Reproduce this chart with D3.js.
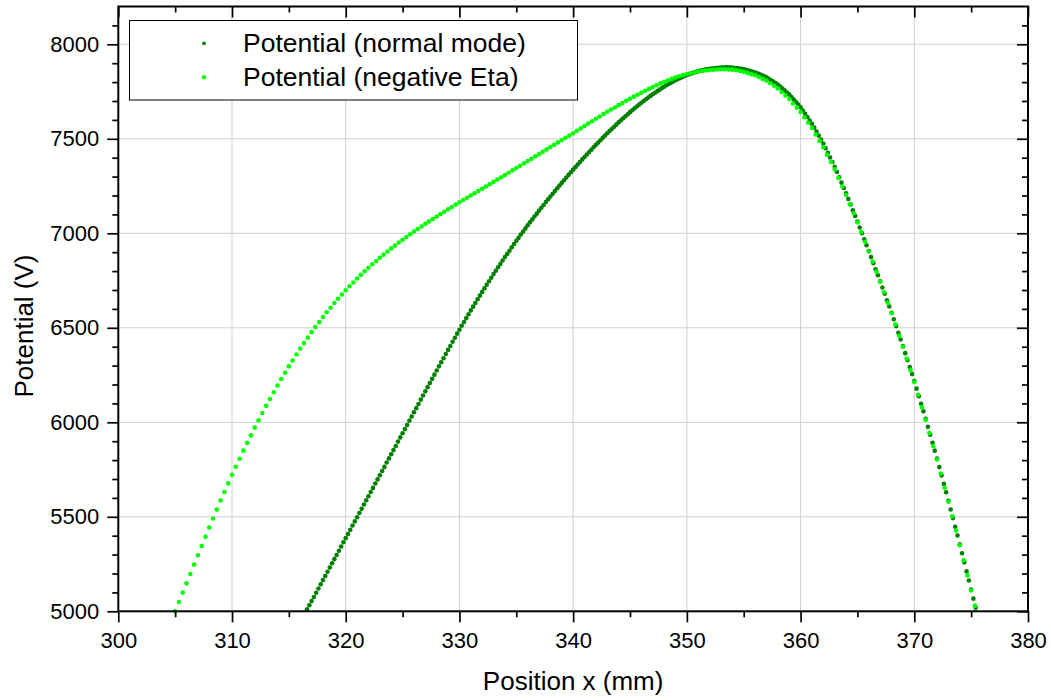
<!DOCTYPE html>
<html>
<head>
    <meta charset="utf-8">
    <title>potential</title>
    <script src="https://d3js.org/d3.v7.min.js"></script>
    <style>
        body { margin: 0px; background: #fff; }
        text { font-family: Arial, "Liberation Sans", sans-serif; fill: #000; }
    </style>
</head>
<body>
<svg width="1051" height="700"></svg>
<script>

    // readings: [position x (mm), potential (V)]
    var normalMode = [
        [316.6,5010],[316.8,5032],
        [317,5054],[317.2,5076],[317.4,5098],[317.6,5121],[317.8,5143],
        [318,5165],[318.2,5187],[318.4,5209],[318.6,5232],[318.8,5254],
        [319,5276],[319.2,5298],[319.4,5320],[319.6,5343],[319.8,5365],
        [320,5387],[320.2,5409],[320.4,5431],[320.6,5454],[320.8,5476],
        [321,5498],[321.2,5520],[321.4,5542],[321.6,5565],[321.8,5587],
        [322,5609],[322.2,5631],[322.4,5653],[322.6,5676],[322.8,5698],
        [323,5720],[323.2,5742],[323.4,5764],[323.6,5787],[323.8,5809],
        [324,5831],[324.2,5853],[324.4,5875],[324.6,5898],[324.8,5920],
        [325,5942],[325.2,5964],[325.4,5986],[325.6,6009],[325.8,6031],
        [326,6053],[326.2,6075],[326.4,6097],[326.6,6120],[326.8,6142],
        [327,6164],[327.2,6186],[327.4,6208],[327.6,6230],[327.8,6252],
        [328,6274],[328.2,6296],[328.4,6318],[328.6,6339],[328.8,6361],
        [329,6383],[329.2,6404],[329.4,6426],[329.6,6447],[329.8,6469],
        [330,6490],[330.2,6511],[330.4,6531],[330.6,6551],[330.8,6572],
        [331,6592],[331.2,6612],[331.4,6631],[331.6,6651],[331.8,6670],
        [332,6690],[332.2,6709],[332.4,6728],[332.6,6746],[332.8,6765],
        [333,6784],[333.2,6802],[333.4,6820],[333.6,6838],[333.8,6856],
        [334,6874],[334.2,6891],[334.4,6908],[334.6,6926],[334.8,6943],
        [335,6960],[335.2,6976],[335.4,6993],[335.6,7009],[335.8,7026],
        [336,7042],[336.2,7058],[336.4,7073],[336.6,7089],[336.8,7104],
        [337,7120],[337.2,7135],[337.4,7150],[337.6,7165],[337.8,7180],
        [338,7195],[338.2,7209],[338.4,7224],[338.6,7238],[338.8,7253],
        [339,7267],[339.2,7281],[339.4,7295],[339.6,7309],[339.8,7323],
        [340,7337],[340.2,7350],[340.4,7364],[340.6,7377],[340.8,7391],
        [341,7404],[341.2,7417],[341.4,7430],[341.6,7442],[341.8,7455],
        [342,7468],[342.2,7480],[342.4,7492],[342.6,7505],[342.8,7517],
        [343,7529],[343.2,7541],[343.4,7552],[343.6,7564],[343.8,7575],
        [344,7587],[344.2,7598],[344.4,7609],[344.6,7619],[344.8,7630],
        [345,7641],[345.2,7651],[345.4,7661],[345.6,7671],[345.8,7681],
        [346,7691],[346.2,7700],[346.4,7709],[346.6,7718],[346.8,7727],
        [347,7736],[347.2,7744],[347.4,7752],[347.6,7760],[347.8,7768],
        [348,7776],[348.2,7783],[348.4,7790],[348.6,7796],[348.8,7803],
        [349,7810],[349.2,7816],[349.4,7821],[349.6,7827],[349.8,7832],
        [350,7838],[350.2,7842],[350.4,7846],[350.6,7850],[350.8,7854],
        [351,7858],[351.2,7861],[351.4,7863],[351.6,7866],[351.8,7868],
        [352,7871],[352.2,7872],[352.4,7873],[352.6,7875],[352.8,7876],
        [353,7877],[353.2,7877],[353.4,7878],[353.6,7878],[353.8,7877],
        [354,7877],[354.2,7875],[354.4,7874],[354.6,7872],[354.8,7870],
        [355,7868],[355.2,7865],[355.4,7861],[355.6,7858],[355.8,7854],
        [356,7851],[356.2,7846],[356.4,7841],[356.6,7836],[356.8,7831],
        [357,7826],[357.2,7818],[357.4,7810],[357.6,7803],[357.8,7795],
        [358,7787],[358.2,7777],[358.4,7766],[358.6,7756],[358.8,7745],
        [359,7735],[359.2,7721],[359.4,7708],[359.6,7694],[359.8,7681],
        [360,7667],[360.2,7650],[360.4,7632],[360.6,7615],[360.8,7597],
        [361,7580],[361.2,7559],[361.4,7538],[361.6,7517],[361.8,7496],
        [362,7475],[362.2,7450],[362.4,7426],[362.6,7401],[362.8,7377],
        [363,7352],[363.2,7324],[363.4,7296],[363.6,7268],[363.8,7240],
        [364,7212],[364.2,7182],[364.4,7152],[364.6,7122],[364.8,7092],
        [365,7062],[365.2,7031],[365.4,7000],[365.6,6968],[365.8,6937],
        [366,6906],[366.2,6874],[366.4,6842],[366.6,6810],[366.8,6778],
        [367,6746],[367.2,6713],[367.4,6680],[367.6,6646],[367.8,6613],
        [368,6580],[368.2,6545],[368.4,6509],[368.6,6474],[368.8,6438],
        [369,6403],[369.2,6366],[369.4,6329],[369.6,6292],[369.8,6255],
        [370,6218],[370.2,6178],[370.4,6138],[370.6,6098],[370.8,6058],
        [371,6018],[371.2,5976],[371.4,5934],[371.6,5892],[371.8,5850],
        [372,5808],[372.2,5763],[372.4,5719],[372.6,5674],[372.8,5630],
        [373,5585],[373.2,5539],[373.4,5493],[373.6,5447],[373.8,5401],
        [374,5355],[374.2,5307],[374.4,5259],[374.6,5211],[374.8,5163],
        [375,5115],[375.2,5067],[375.4,5019]
    ];

    var negativeEta = [
        [305,5000],[305.33,5049],[305.67,5099],
        [306,5148],[306.33,5197],[306.67,5247],
        [307,5296],[307.33,5345],[307.67,5394],
        [308,5443],[308.33,5491],[308.67,5538],
        [309,5586],[309.33,5631],[309.67,5677],
        [310,5722],[310.33,5765],[310.67,5807],
        [311,5850],[311.33,5891],[311.67,5931],
        [312,5972],[312.33,6010],[312.67,6049],
        [313,6087],[313.33,6123],[313.67,6159],
        [314,6195],[314.33,6229],[314.67,6262],
        [315,6296],[315.33,6327],[315.67,6359],
        [316,6390],[316.33,6419],[316.67,6448],
        [317,6477],[317.33,6504],[317.67,6530],
        [318,6557],[318.33,6582],[318.67,6606],
        [319,6631],[319.33,6654],[319.67,6676],
        [320,6699],[320.33,6720],[320.67,6740],
        [321,6761],[321.33,6780],[321.67,6799],
        [322,6818],[322.33,6836],[322.67,6853],
        [323,6871],[323.33,6887],[323.67,6904],
        [324,6920],[324.33,6935],[324.67,6951],
        [325,6966],[325.33,6980],[325.67,6995],
        [326,7009],[326.33,7023],[326.67,7036],
        [327,7050],[327.33,7063],[327.67,7076],
        [328,7089],[328.33,7102],[328.67,7114],
        [329,7127],[329.33,7139],[329.67,7152],
        [330,7164],[330.33,7176],[330.67,7188],
        [331,7200],[331.33,7212],[331.67,7224],
        [332,7236],[332.33,7248],[332.67,7260],
        [333,7272],[333.33,7284],[333.67,7296],
        [334,7308],[334.33,7320],[334.67,7333],
        [335,7345],[335.33,7357],[335.67,7370],
        [336,7382],[336.33,7394],[336.67,7407],
        [337,7419],[337.33,7431],[337.67,7444],
        [338,7456],[338.33,7468],[338.67,7481],
        [339,7493],[339.33,7505],[339.67,7517],
        [340,7529],[340.33,7542],[340.67,7555],
        [341,7568],[341.33,7581],[341.67,7593],
        [342,7606],[342.33,7618],[342.67,7631],
        [343,7643],[343.33,7655],[343.67,7666],
        [344,7678],[344.33,7689],[344.67,7701],
        [345,7712],[345.33,7723],[345.67,7733],
        [346,7744],[346.33,7754],[346.67,7764],
        [347,7774],[347.33,7783],[347.67,7793],
        [348,7802],[348.33,7810],[348.67,7817],
        [349,7825],[349.33,7831],[349.67,7837],
        [350,7843],[350.33,7847],[350.67,7852],
        [351,7856],[351.33,7859],[351.67,7861],
        [352,7864],[352.33,7865],[352.67,7867],
        [353,7868],[353.33,7868],[353.67,7867],
        [354,7866],[354.33,7863],[354.67,7859],
        [355,7855],[355.33,7849],[355.67,7842],
        [356,7836],[356.33,7827],[356.67,7817],
        [357,7808],[357.33,7794],[357.67,7781],
        [358,7767],[358.33,7748],[358.67,7729],
        [359,7710],[359.33,7687],[359.67,7665],
        [360,7642],[360.33,7614],[360.67,7585],
        [361,7557],[361.33,7523],[361.67,7489],
        [362,7455],[362.33,7416],[362.67,7377],
        [363,7338],[363.33,7293],[363.67,7247],
        [364,7202],[364.33,7154],[364.67,7106],
        [365,7058],[365.33,7007],[365.67,6955],
        [366,6904],[366.33,6851],[366.67,6797],
        [367,6744],[367.33,6688],[367.67,6633],
        [368,6577],[368.33,6518],[368.67,6458],
        [369,6399],[369.33,6337],[369.67,6275],
        [370,6213],[370.33,6146],[370.67,6080],
        [371,6013],[371.33,5943],[371.67,5873],
        [372,5803],[372.33,5729],[372.67,5654],
        [373,5580],[373.33,5503],[373.67,5427],
        [374,5350],[374.33,5270],[374.67,5190],
        [375,5110],[375.33,5030]
    ];

    var seriesNames = ["Potential (normal mode)", "Potential (negative Eta)"];
    var seriesColors = ["#008000", "#00ff00"];
    var xTicks = [300, 310, 320, 330, 340, 350, 360, 370, 380];
    var xMinor = [305, 315, 325, 335, 345, 355, 365, 375];
    var yTicks = [5000, 5500, 6000, 6500, 7000, 7500, 8000];
    var yMinor = [5100, 5200, 5300, 5400, 5600, 5700, 5800, 5900, 6100, 6200, 6300, 6400,
                  6600, 6700, 6800, 6900, 7100, 7200, 7300, 7400, 7600, 7700, 7800, 7900, 8100];

    var svg = d3.select("svg"),
        plotLeft = 118.3, plotRight = 1028, plotTop = 6.5, plotBottom = 611.3;

    var x = d3.scaleLinear().domain([300, 380]).range([plotLeft, plotRight]),
        y = d3.scaleLinear().domain([5000, 8200]).range([plotBottom, plotTop]);

    // grid
    var grid = svg.append("g").attr("stroke", "#cfcfcf").attr("stroke-width", 1);
    grid.selectAll(".gx").data(xTicks.slice(1, -1)).enter().append("line")
        .attr("x1", function (d){ return x(d); }).attr("x2", function (d){ return x(d); })
        .attr("y1", plotTop).attr("y2", plotBottom);
    grid.selectAll(".gy").data(yTicks.slice(1)).enter().append("line")
        .attr("y1", function (d){ return y(d); }).attr("y2", function (d){ return y(d); })
        .attr("x1", plotLeft).attr("x2", plotRight);

    // data
    svg.append("g").selectAll("circle").data(normalMode).enter().append("circle")
        .attr("cx", function (d){ return x(d[0]); })
        .attr("cy", function (d){ return y(d[1]); })
        .attr("r", 2.3)
        .attr("fill", seriesColors[0]);
    svg.append("g").selectAll("circle").data(negativeEta).enter().append("circle")
        .attr("cx", function (d){ return x(d[0]); })
        .attr("cy", function (d){ return y(d[1]); })
        .attr("r", 2.3)
        .attr("fill", seriesColors[1]);

    // axes
    function styleAxis(g){
        g.attr("font-size", null).attr("font-family", null);
        g.select(".domain").remove();
        g.selectAll("line").attr("stroke", "#000").attr("stroke-width", 1.7);
        g.selectAll("text").style("font-size", "22px").attr("fill", "#000");
    }

    svg.append("g").attr("transform", "translate(0," + plotBottom + ")")
        .call(d3.axisBottom(x).tickValues(xTicks).tickSize(11).tickPadding(10).tickFormat(d3.format("d")))
        .call(styleAxis);
    svg.append("g").attr("transform", "translate(0," + plotBottom + ")")
        .call(d3.axisBottom(x).tickValues(xMinor).tickSize(6).tickFormat(""))
        .call(styleAxis);
    svg.append("g").attr("transform", "translate(" + plotLeft + ",0)")
        .call(d3.axisLeft(y).tickValues(yTicks).tickSize(11).tickPadding(8).tickFormat(d3.format("d")))
        .call(styleAxis);
    svg.append("g").attr("transform", "translate(" + plotLeft + ",0)")
        .call(d3.axisLeft(y).tickValues(yMinor).tickSize(6).tickFormat(""))
        .call(styleAxis);
    svg.append("g").attr("transform", "translate(0," + plotTop + ")")
        .call(d3.axisTop(x).tickValues(xTicks).tickSize(-11).tickFormat(""))
        .call(styleAxis);
    svg.append("g").attr("transform", "translate(0," + plotTop + ")")
        .call(d3.axisTop(x).tickValues(xMinor).tickSize(-6).tickFormat(""))
        .call(styleAxis);
    svg.append("g").attr("transform", "translate(" + plotRight + ",0)")
        .call(d3.axisRight(y).tickValues(yTicks).tickSize(-11).tickFormat(""))
        .call(styleAxis);
    svg.append("g").attr("transform", "translate(" + plotRight + ",0)")
        .call(d3.axisRight(y).tickValues(yMinor).tickSize(-6).tickFormat(""))
        .call(styleAxis);

    svg.append("rect")
        .attr("x", plotLeft).attr("y", plotTop)
        .attr("width", plotRight - plotLeft).attr("height", plotBottom - plotTop)
        .attr("fill", "none").attr("stroke", "#000").attr("stroke-width", 2);

    // axis titles
    svg.append("text")
        .attr("x", (plotLeft + plotRight) / 2).attr("y", 690)
        .attr("text-anchor", "middle")
        .style("font-size", "26px")
        .text("Position x (mm)");
    svg.append("text")
        .attr("transform", "translate(33,326) rotate(-90)")
        .attr("text-anchor", "middle")
        .style("font-size", "26px")
        .text("Potential (V)");

    // legend
    var legend = svg.append("g");
    legend.append("rect")
        .attr("x", 129.5).attr("y", 20.5).attr("width", 448).attr("height", 79.5)
        .attr("fill", "#fff").attr("stroke", "#000").attr("stroke-width", 1);
    var rows = legend.selectAll(".row").data(seriesNames).enter().append("g")
        .attr("transform", function (d, i){ return "translate(0," + (43.3 + i * 34) + ")"; });
    rows.append("circle")
        .attr("cx", 204).attr("cy", 0)
        .attr("r", function (d, i){ return i === 0 ? 1.9 : 2.2; })
        .attr("fill", function (d, i){ return seriesColors[i]; });
    rows.append("text")
        .attr("x", 243).attr("y", 8.8)
        .style("font-size", "26.5px")
        .text(function (d){ return d; });
</script>
</body>
</html>
